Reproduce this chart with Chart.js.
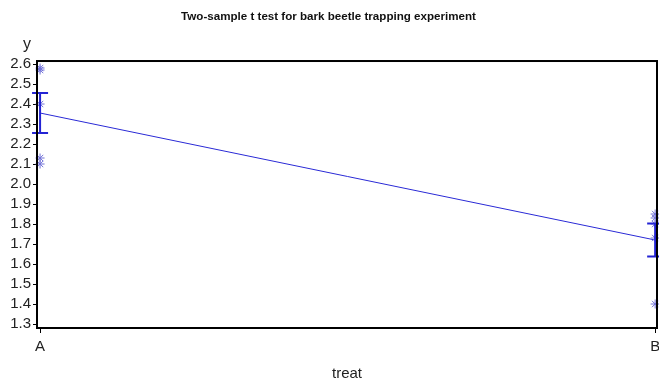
<!DOCTYPE html>
<html>
<head>
<meta charset="utf-8">
<script src="https://cdn.jsdelivr.net/npm/chart.js@4/dist/chart.umd.min.js"></script>
<style>
  html, body { margin: 0; padding: 0; background: #fff; }
  #wrap { width: 659px; height: 383px; }
</style>
</head>
<body>
<div id="wrap"><canvas id="c" width="659" height="383"></canvas></div>
<script>
// Treatment groups on the x axis
const categories = ['A', 'B'];
// Individual trap counts (log scale) per treatment
const obsA = [2.58, 2.57, 2.40, 2.13, 2.10];
const obsB = [1.85, 1.83, 1.80, 1.73, 1.40];
// Group means and standard errors
const groupMeans = [2.355, 1.72];
const stdErrors = [0.100, 0.083];
// Y axis tick labels
const yTicks = [1.3, 1.4, 1.5, 1.6, 1.7, 1.8, 1.9, 2.0, 2.1, 2.2, 2.3, 2.4, 2.5, 2.6];

const FONT = 'Arial, "Liberation Sans", sans-serif';

const points = [];
obsA.forEach(v => points.push({ x: 0, y: v }));
obsB.forEach(v => points.push({ x: 1, y: v }));

const meanPts = groupMeans.map((m, i) => ({ x: i, y: m }));

// Error bars, frame and the "y" label
const extras = {
  id: 'extras',
  afterDatasetsDraw(chart) {
    const { ctx, chartArea: a, scales: { x, y } } = chart;
    ctx.save();
    ctx.strokeStyle = '#2323d4';
    ctx.lineWidth = 2;
    groupMeans.forEach((m, i) => {
      const px = x.getPixelForValue(i);
      const top = y.getPixelForValue(m + stdErrors[i]);
      const bot = y.getPixelForValue(m - stdErrors[i]);
      ctx.beginPath();
      ctx.moveTo(px, top); ctx.lineTo(px, bot);
      ctx.moveTo(px - 8, top); ctx.lineTo(px + 8, top);
      ctx.moveTo(px - 8, bot); ctx.lineTo(px + 8, bot);
      ctx.stroke();
    });
    ctx.strokeStyle = '#000';
    ctx.lineWidth = 2;
    ctx.strokeRect(a.left, a.top, a.right - a.left, a.bottom - a.top);
    ctx.fillStyle = '#222';
    ctx.font = '16px ' + FONT;
    ctx.textAlign = 'center';
    ctx.textBaseline = 'middle';
    ctx.fillText('y', 27, 45);
    ctx.restore();
  }
};

new Chart(document.getElementById('c'), {
  type: 'scatter',
  data: {
    datasets: [
      {
        type: 'line',
        data: meanPts,
        borderColor: '#2a2ad6',
        borderWidth: 1,
        pointRadius: 0,
        fill: false,
        order: 2
      },
      {
        data: points,
        pointStyle: 'star',
        pointRadius: 4.5,
        borderColor: '#7272d8',
        backgroundColor: '#7272d8',
        borderWidth: 1,
        clip: false,
        order: 1
      }
    ]
  },
  options: {
    responsive: false,
    animation: false,
    layout: { autoPadding: false, padding: { top: 0, right: 2, left: 0, bottom: 0 } },
    plugins: {
      legend: { display: false },
      tooltip: { enabled: false },
      title: {
        display: true,
        text: 'Two-sample t test for bark beetle trapping experiment',
        color: '#111',
        font: { family: FONT, size: 11.6, weight: 'bold' },
        padding: { top: 10, bottom: 37.1 }
      }
    },
    scales: {
      x: {
        type: 'linear',
        min: -0.005,
        max: 1.003,
        afterBuildTicks(s) { s.ticks = categories.map((c, i) => ({ value: i })); },
        afterFit(s) { s.height = 55; s.paddingLeft = 0; s.paddingRight = 0; },
        ticks: {
          callback: (v) => categories[v],
          color: '#222',
          font: { family: FONT, size: 15 },
          padding: 5,
          maxRotation: 0,
          autoSkip: false
        },
        grid: { drawOnChartArea: false, drawTicks: true, tickLength: 5, color: '#000' },
        border: { display: false },
        title: {
          display: true,
          text: 'treat',
          color: '#222',
          font: { family: FONT, size: 15 },
          padding: { top: 5, bottom: 0 }
        }
      },
      y: {
        min: 1.28,
        max: 2.615,
        afterBuildTicks(s) { s.ticks = yTicks.map(v => ({ value: v })); },
        afterFit(s) { s.width = 37; },
        ticks: {
          callback: (v) => v.toFixed(1),
          color: '#222',
          font: { family: FONT, size: 15 },
          padding: 2,
          autoSkip: false
        },
        grid: { drawOnChartArea: false, drawTicks: true, tickLength: 4, color: '#000' },
        border: { display: false }
      }
    }
  },
  plugins: [extras]
});
</script>
</body>
</html>
